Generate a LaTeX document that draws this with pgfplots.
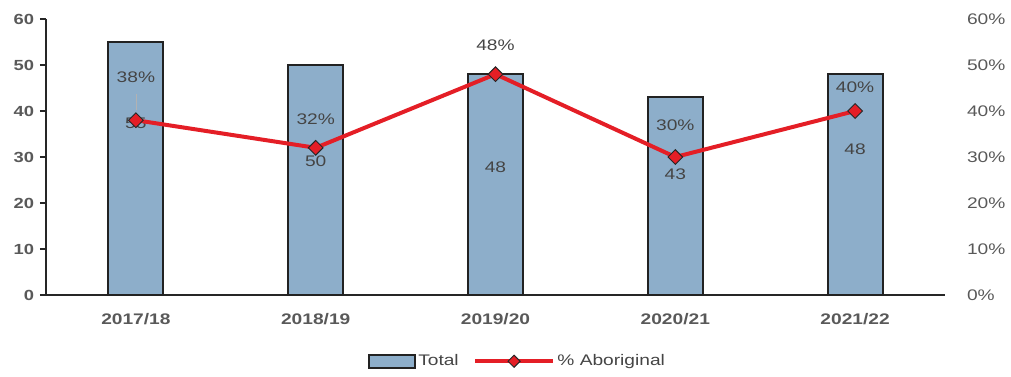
\documentclass[border=0pt]{standalone}
\usepackage{pgfplots}
\pgfplotsset{compat=1.18}
\usepackage{fontspec}
\setmainfont{Liberation Sans}[FakeStretch=1.25]

\definecolor{barfill}{HTML}{8DAECA}
\definecolor{barline}{HTML}{222222}
\definecolor{linered}{HTML}{E41E26}
\definecolor{ticktext}{HTML}{595959}
\definecolor{labeltext}{HTML}{454545}

\pgfplotsset{
  barlegend/.style={legend image code/.code={\draw[##1] (0pt,-5pt) rectangle (34pt,5pt);}},
  linelegend/.style={legend image code/.code={\draw[##1, mark repeat=2, mark phase=2] plot coordinates {(0pt,0pt) (29pt,0pt) (58pt,0pt)};}},
}

\begin{document}
\begin{tikzpicture}
\useasboundingbox (-34.5pt,-60.75pt) rectangle (723.75pt,221.25pt);
\pgfplotsset{
  common/.style={
    scale only axis, width=674.25pt, height=207pt,
    xmin=-0.5, xmax=4.5, ymin=0, ymax=60,
    ytick={0,10,...,60},
    /pgf/number format/assume math mode=true,
  },
  valuelabels/.style={
    draw=none, mark=none, forget plot,
    nodes near coords, point meta=explicit,
    nodes near coords align={center},
    every node near coord/.append style={font=\fontsize{11.5}{13}\selectfont, text=labeltext, inner sep=0pt},
  },
}
% Left axis: totals as bars
\begin{axis}[common,
  axis x line*=bottom, axis y line*=left,
  axis line style={draw=black!85, line width=0.9pt},
  xtick={0,1,2,3,4},
  xticklabels={2017/18,2018/19,2019/20,2020/21,2021/22},
  xtick style={draw=none},
  tick align=outside, major tick length=4.5pt,
  ytick style={draw=black!85, line width=0.9pt},
  ticklabel style={font=\fontsize{11}{13}\selectfont\bfseries, text=ticktext},
  xticklabel style={yshift=-6pt, font=\fontsize{11.5}{13}\selectfont\bfseries},
  yticklabel style={xshift=-1pt},
  legend columns=2,
  legend style={at={(0.525,-0.24)}, anchor=center, draw=none, fill=none,
    font=\fontsize{11.5}{14}\selectfont, text=labeltext,
    /tikz/every even column/.append style={column sep=9pt}},
]
\addplot[ybar, bar width=41.25pt, fill=barfill, draw=barline, line width=1.5pt, barlegend]
  coordinates {(0,55) (1,50) (2,48) (3,43) (4,48)};
\addlegendentry{Total}
\addlegendimage{linered, line width=3pt, mark=square*,
  mark options={fill=linered, draw=black!85, line width=0.7pt, rotate=45, mark size=3.2pt}, linelegend}
\addlegendentry{\% Aboriginal}
% bar value labels
\addplot[valuelabels, nodes near coords={\pgfmathprintnumber{\pgfplotspointmeta}}]
  table[meta=v, row sep=\\] {x y v\\ 0 37.3 55\\ 1 29.0 50\\ 2 27.7 48\\ 3 26.2 43\\ 4 31.6 48\\};
\end{axis}
% Right axis: share of Aboriginal people as a line
\begin{axis}[common,
  axis x line=none, axis y line*=right,
  y axis line style={draw=none}, ytick style={draw=none},
  yticklabel={\pgfmathprintnumber{\tick}\%},
  yticklabel style={anchor=west, xshift=13pt, font=\fontsize{11.5}{13}\selectfont, text=ticktext},
]
\draw[black!30, line width=0.5pt] (axis cs:0,43.6) -- (axis cs:0,40.2);
\addplot[valuelabels, nodes near coords={\pgfmathprintnumber{\pgfplotspointmeta}\%}]
  table[meta=v, row sep=\\] {x y v\\ 0 47.4 38\\ 1 38.3 32\\ 2 54.4 48\\ 3 37.0 30\\ 4 45.1 40\\};
\addplot[linered, line width=3pt, mark=square*,
  mark options={fill=linered, draw=black!85, line width=0.7pt, rotate=45, mark size=3.9pt}]
  coordinates {(0,38) (1,32) (2,48) (3,30) (4,40)};
\end{axis}
\end{tikzpicture}
\end{document}
